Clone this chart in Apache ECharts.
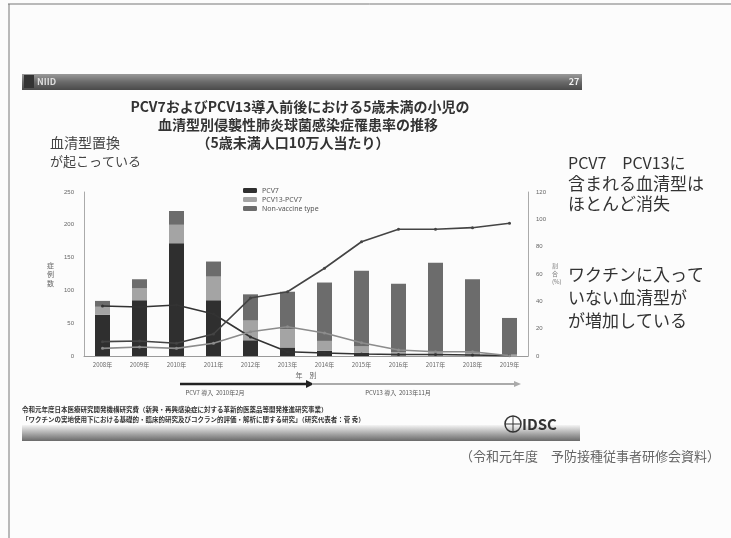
<!DOCTYPE html>
<html><head><meta charset="utf-8">
<script src="https://cdn.jsdelivr.net/npm/echarts@6/dist/echarts.min.js"></script>
<style>html,body{margin:0;padding:0;background:#fcfcfc}#c{width:731px;height:538px}</style>
</head><body><div id="c"></div>
<script>
// ---- data ----
const years = ['2008年','2009年','2010年','2011年','2012年','2013年','2014年','2015年','2016年','2017年','2018年','2019年'];
const barPCV7 = [63, 85, 172, 85, 24, 13, 8, 5, 1, 1, 1, 0];
const barPCV13only = [12, 18, 28, 36, 30, 28, 15, 10, 5, 5, 4, 2];
const barNVT = [9, 14, 21, 23, 40, 57, 89, 115, 104, 136, 112, 56];
const linePCV7 = [36.6, 35.8, 37.3, 30.7, 13.9, 3.1, 2.2, 1.5, 1.1, 1.1, 0.7, 0.3];
const linePCV13only = [5.6, 6.6, 5.6, 9.3, 17.8, 21.4, 16.8, 9.7, 4.4, 3.1, 3.1, 0.2];
const lineNVT = [10.5, 11.0, 9.3, 16.1, 42.4, 47.0, 64.2, 83.6, 92.7, 92.7, 93.9, 97.1];
const leftTicks = {min: 0, max: 250, interval: 50};
const rightTicks = {min: 0, max: 120, interval: 20};
const seriesNames = ['PCV7', 'PCV13-PCV7', 'Non-vaccine type'];

const JP = '"Noto Sans CJK JP", "Noto Sans", sans-serif';
const chart = echarts.init(document.getElementById('c'));

function txt(x, y, text, size, opts) {
  opts = opts || {};
  return {type: 'text', x: x, y: y, z: 10, style: {
    text: text, font: (opts.weight || 'normal') + ' ' + size + 'px ' + JP,
    fill: opts.fill || '#333', textAlign: opts.align || 'left', textVerticalAlign: 'middle'}};
}

const barColors = ['#2f2f2f', '#a4a4a4', '#6c6c6c'];
const lineColors = ['#333333', '#8c8c8c', '#444444'];

chart.setOption({
  backgroundColor: '#fcfcfc',
  animation: false,
  grid: {left: 84, right: 203, top: 192, bottom: 182},
  legend: {
    data: seriesNames, orient: 'vertical', left: 238, top: 182, itemGap: 2,
    itemWidth: 14, itemHeight: 5,
    textStyle: {fontSize: 7, color: '#555', fontFamily: 'Noto Sans'}
  },
  xAxis: {
    type: 'category', data: years, name: '年　別', nameLocation: 'middle', nameGap: 16,
    nameTextStyle: {fontSize: 7, color: '#666', fontFamily: JP},
    axisLine: {lineStyle: {color: '#999'}}, axisTick: {show: false},
    axisLabel: {fontSize: 6, color: '#666', margin: 6, fontFamily: JP}
  },
  yAxis: [
    {type: 'value', min: leftTicks.min, max: leftTicks.max, interval: leftTicks.interval,
     name: '症\n例\n数', nameLocation: 'middle', nameGap: 30, nameRotate: 0,
     nameTextStyle: {fontSize: 7, color: '#666', fontFamily: JP, lineHeight: 9},
     axisLine: {show: true, lineStyle: {color: '#aaa'}}, axisTick: {show: false},
     splitLine: {show: false}, axisLabel: {fontSize: 6, color: '#666', margin: 10}},
    {type: 'value', min: rightTicks.min, max: rightTicks.max, interval: rightTicks.interval,
     name: '割\n合\n(%)', nameLocation: 'middle', nameGap: 24, nameRotate: 0,
     nameTextStyle: {fontSize: 6, color: '#777', fontFamily: JP, lineHeight: 8},
     axisLine: {show: true, lineStyle: {color: '#aaa'}}, axisTick: {show: false},
     splitLine: {show: false}, axisLabel: {fontSize: 6, color: '#666', margin: 8}}
  ],
  series: [
    {name: seriesNames[0], type: 'bar', stack: 's', data: barPCV7, barWidth: 15, itemStyle: {color: barColors[0]}},
    {name: seriesNames[1], type: 'bar', stack: 's', data: barPCV13only, barWidth: 15, itemStyle: {color: barColors[1]}},
    {name: seriesNames[2], type: 'bar', stack: 's', data: barNVT, barWidth: 15, itemStyle: {color: barColors[2]}},
    {name: seriesNames[0] + ' %', type: 'line', yAxisIndex: 1, data: linePCV7, symbol: 'circle', symbolSize: 3,
     lineStyle: {color: lineColors[0], width: 1.6}, itemStyle: {color: lineColors[0]}, z: 5},
    {name: seriesNames[1] + ' %', type: 'line', yAxisIndex: 1, data: linePCV13only, symbol: 'circle', symbolSize: 3,
     lineStyle: {color: lineColors[1], width: 1.6}, itemStyle: {color: lineColors[1]}, z: 5},
    {name: seriesNames[2] + ' %', type: 'line', yAxisIndex: 1, data: lineNVT, symbol: 'circle', symbolSize: 3,
     lineStyle: {color: lineColors[2], width: 1.6}, itemStyle: {color: lineColors[2]}, z: 5}
  ],
  graphic: [
    // page frame
    {type: 'line', shape: {x1: 8, y1: 4, x2: 731, y2: 4}, style: {stroke: '#777', lineWidth: 1}},
    {type: 'line', shape: {x1: 9, y1: 4, x2: 9, y2: 538}, style: {stroke: '#777', lineWidth: 1}},
    // header band
    {type: 'rect', shape: {x: 22, y: 74, width: 560, height: 16}, z: 1,
     style: {fill: new echarts.graphic.LinearGradient(0, 0, 0, 1, [
       {offset: 0, color: '#9a9a9a'}, {offset: 0.5, color: '#6a6a6a'}, {offset: 1, color: '#4a4a4a'}])}},
    {type: 'rect', shape: {x: 24, y: 75, width: 10, height: 13}, z: 2, style: {fill: '#333'}},
    txt(37, 82, 'NIID', 9, {fill: '#ddd', weight: 'bold'}),
    txt(574, 82, '27', 9, {fill: '#eee', weight: 'bold', align: 'center'}),
    // title
    txt(300, 107, 'PCV7およびPCV13導入前後における5歳未満の小児の', 14, {weight: 'bold', align: 'center', fill: '#333'}),
    txt(298, 125, '血清型別侵襲性肺炎球菌感染症罹患率の推移', 14, {weight: 'bold', align: 'center', fill: '#333'}),
    txt(293, 143, '（5歳未満人口10万人当たり）', 14, {weight: 'bold', align: 'center', fill: '#333'}),
    // left annotation
    txt(50, 143, '血清型置換', 14, {fill: '#444'}),
    txt(50, 161, 'が起こっている', 13, {fill: '#444'}),
    // right annotations
    txt(568, 163, 'PCV7　PCV13に', 16, {fill: '#333'}),
    txt(568, 184, '含まれる血清型は', 17, {fill: '#333'}),
    txt(568, 204, 'ほとんど消失', 17, {fill: '#333'}),
    txt(568, 275, 'ワクチンに入って', 17, {fill: '#333'}),
    txt(568, 298, 'いない血清型が', 17, {fill: '#333'}),
    txt(568, 321, 'が増加している', 17, {fill: '#333'}),
    // timeline arrows
    {type: 'line', shape: {x1: 180, y1: 384, x2: 308, y2: 384}, style: {stroke: '#222', lineWidth: 2.5}},
    {type: 'polygon', shape: {points: [[306, 380], [314, 384], [306, 388]]}, style: {fill: '#222'}},
    {type: 'line', shape: {x1: 312, y1: 384, x2: 516, y2: 384}, style: {stroke: '#aaa', lineWidth: 2}},
    {type: 'polygon', shape: {points: [[514, 381], [521, 384], [514, 387]]}, style: {fill: '#aaa'}},
    txt(215, 393, 'PCV7 導入  2010年2月', 6, {fill: '#555', align: 'center'}),
    txt(398, 393, 'PCV13 導入  2013年11月', 6, {fill: '#555', align: 'center'}),
    // footer
    txt(22, 410, '令和元年度日本医療研究開発機構研究費（新興・再興感染症に対する革新的医薬品等開発推進研究事業）', 6.5, {fill: '#333', weight: 'bold'}),
    txt(22, 420, '「ワクチンの実地使用下における基礎的・臨床的研究及びコクラン的評価・解析に関する研究」（研究代表者：菅 秀）', 6.5, {fill: '#333', weight: 'bold'}),
    {type: 'rect', shape: {x: 22, y: 425, width: 558, height: 16}, z: 1,
     style: {fill: new echarts.graphic.LinearGradient(0, 0, 0, 1, [
       {offset: 0, color: '#f4f4f4'}, {offset: 0.6, color: '#a0a0a0'}, {offset: 1, color: '#6a6a6a'}])}},
    {type: 'circle', shape: {cx: 513, cy: 424, r: 8}, z: 3, style: {fill: 'none', stroke: '#333', lineWidth: 1.5}},
    {type: 'line', shape: {x1: 505, y1: 424, x2: 521, y2: 424}, z: 3, style: {stroke: '#333', lineWidth: 1}},
    {type: 'line', shape: {x1: 513, y1: 416, x2: 513, y2: 432}, z: 3, style: {stroke: '#333', lineWidth: 1}},
    txt(522, 424, 'IDSC', 15, {fill: '#333', weight: 'bold'}),
    txt(720, 456, '（令和元年度　予防接種従事者研修会資料）', 13, {fill: '#666', align: 'right'})
  ]
});
</script></body></html>
